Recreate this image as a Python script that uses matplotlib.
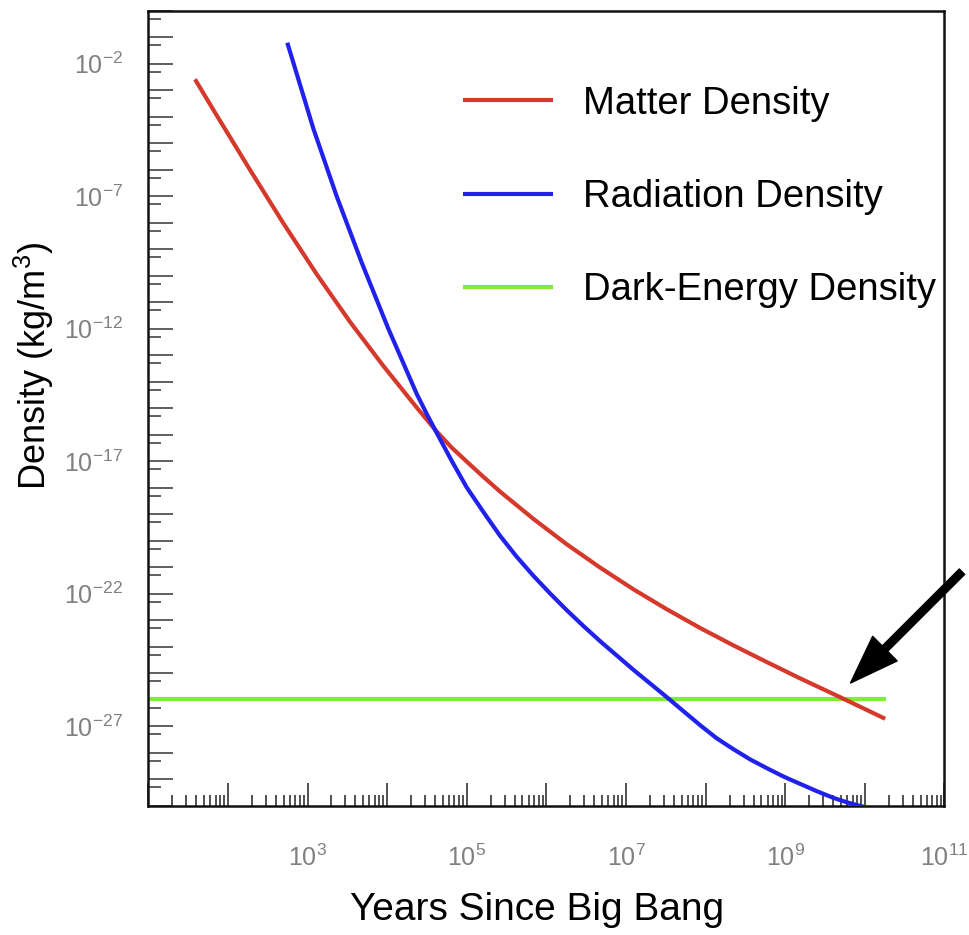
import numpy as np
import matplotlib
matplotlib.use("Agg")
import matplotlib.pyplot as plt
from matplotlib.ticker import FixedLocator, FuncFormatter, NullFormatter

plt.rcParams['font.family'] = ['Liberation Sans', 'DejaVu Sans']
plt.rcParams['mathtext.fontset'] = 'custom'
plt.rcParams['mathtext.rm'] = 'Liberation Sans'
plt.rcParams['mathtext.it'] = 'Liberation Sans:italic'
plt.rcParams['mathtext.bf'] = 'Liberation Sans:bold'
plt.rcParams['mathtext.sf'] = 'Liberation Sans'

# ---- data (log10 values) ----
matter_log_years = [1.587, 1.859, 2.278, 2.696, 3.116, 3.534, 3.952, 4.372, 4.623,
                    4.812, 5.000, 5.209, 5.418, 5.837, 6.256, 6.675, 7.093, 7.513,
                    7.931, 8.349, 8.769, 9.187, 9.690, 10.255]
matter_log_density = [-2.589, -3.947, -6.008, -8.019, -9.947, -11.743, -13.404, -14.977,
                      -15.883, -16.491, -17.015, -17.592, -18.147, -19.177, -20.136,
                      -21.015, -21.834, -22.589, -23.294, -23.951, -24.581, -25.196,
                      -25.906, -26.721]

radiation_log_years = [2.746, 3.073, 3.367, 3.681, 4.015, 4.372, 4.498, 4.623, 4.812,
                       5.000, 5.209, 5.418, 5.628, 5.837, 6.047, 6.256, 6.465, 6.675,
                       7.093, 7.513, 7.931, 8.141, 8.349, 8.559, 8.769, 8.977, 9.187,
                       9.397, 9.606, 9.774, 9.941, 10.255]
radiation_log_density = [-1.208, -4.445, -7.008, -9.509, -12.000, -14.464, -15.219, -15.936,
                         -16.992, -17.992, -18.917, -19.815, -20.608, -21.325, -21.992,
                         -22.623, -23.219, -23.792, -24.872, -25.906, -26.962, -27.460,
                         -27.868, -28.253, -28.585, -28.898, -29.177, -29.453, -29.706,
                         -29.872, -30.008, -30.238]

darkenergy_log_years = [1.0, 10.27]
darkenergy_log_density = [-25.97, -25.97]

labels = ["Matter Density", "Radiation Density", "Dark-Energy Density"]
xtick_label_exps = [3, 5, 7, 9, 11]
ytick_label_exps = [-2, -7, -12, -17, -22, -27]
arrow_tip_log = (9.82, -25.37)
arrow_tail_log = (11.22, -21.17)

# ---- figure ----
fig = plt.figure(figsize=(9.69, 9.35), dpi=100)
ax = fig.add_axes([0.1530, 0.1383, 0.8217, 0.8503])
ax.set_xscale('log')
ax.set_yscale('log')

lm, = ax.plot(10 ** np.array(matter_log_years), 10 ** np.array(matter_log_density),
              color='#d5392b', lw=3.0, solid_capstyle='butt', zorder=3, label=labels[0])
lr, = ax.plot(10 ** np.array(radiation_log_years), 10 ** np.array(radiation_log_density),
              color='#2121ec', lw=3.0, solid_capstyle='butt', zorder=4, label=labels[1])
ld, = ax.plot(10 ** np.array(darkenergy_log_years), 10 ** np.array(darkenergy_log_density),
              color='#7def2b', lw=3.0, solid_capstyle='butt', zorder=2, label=labels[2])

ax.set_xlim(1e1, 1e11)
ax.set_ylim(1e-30, 1e0)

# ticks
ax.xaxis.set_major_locator(FixedLocator([10.0 ** k for k in range(1, 12)]))
ax.xaxis.set_minor_locator(FixedLocator([m * 10.0 ** k for k in range(1, 11) for m in range(2, 10)]))
ax.yaxis.set_major_locator(FixedLocator([10.0 ** k for k in range(-30, 1)]))
ax.yaxis.set_minor_locator(FixedLocator([5 * 10.0 ** k for k in range(-31, 0)]))

def xfmt(v, pos):
    e = int(round(np.log10(v)))
    return r'$10^{%d}$' % e if e in xtick_label_exps else ''

def yfmt(v, pos):
    e = int(round(np.log10(v)))
    return r'$10^{%d}$' % e if e in ytick_label_exps else ''

ax.xaxis.set_major_formatter(FuncFormatter(xfmt))
ax.yaxis.set_major_formatter(FuncFormatter(yfmt))
ax.xaxis.set_minor_formatter(NullFormatter())
ax.yaxis.set_minor_formatter(NullFormatter())

ax.tick_params(axis='x', which='major', direction='in', length=16.5, width=1.1,
               color='#222222', pad=28, labelsize=18, labelcolor='#808080')
ax.tick_params(axis='x', which='minor', direction='in', length=8, width=1.1, color='#222222')
ax.tick_params(axis='y', which='major', direction='in', length=18, width=1.1,
               color='#333333', pad=18, labelsize=18, labelcolor='#808080')
ax.tick_params(axis='y', which='minor', direction='in', length=9.4, width=1.1, color='#333333')

for s in ax.spines.values():
    s.set_linewidth(1.8)
    s.set_color('#111111')

ax.set_xlabel('Years Since Big Bang', fontsize=28)
ax.xaxis.set_label_coords(0.488, -0.109)
ax.set_ylabel('Density (kg/m$^3$)', fontsize=26)
ax.yaxis.set_label_coords(-0.116, 0.553)

leg = ax.legend(handles=[lm, lr, ld], loc='upper left', bbox_to_anchor=(0.395, 0.9055),
                frameon=False, fontsize=27.5, handlelength=2.36, handletextpad=0.8,
                labelspacing=1.5, borderpad=0, borderaxespad=0)

ax.annotate('', xy=(10 ** arrow_tip_log[0], 10 ** arrow_tip_log[1]),
            xytext=(10 ** arrow_tail_log[0], 10 ** arrow_tail_log[1]),
            arrowprops=dict(facecolor='black', edgecolor='black', width=5.5,
                            headwidth=25, headlength=35, shrink=0),
            annotation_clip=False, zorder=6)

fig.savefig('out.png', dpi=100)
